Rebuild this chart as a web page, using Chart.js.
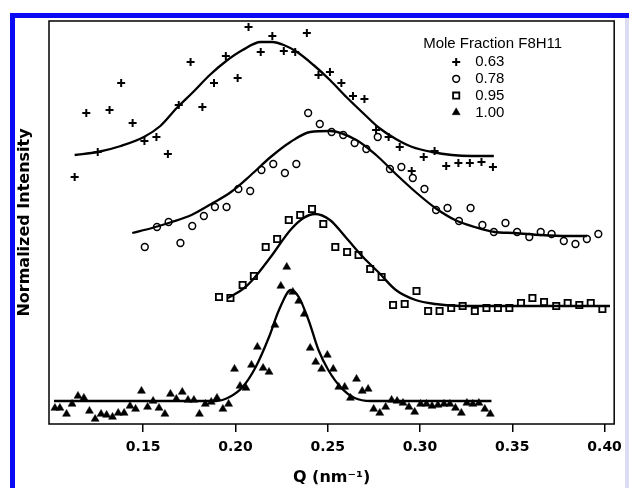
<!DOCTYPE html>
<html>
<head>
<meta charset="utf-8">
<script src="https://cdn.jsdelivr.net/npm/chart.js@4.4.0/dist/chart.umd.min.js"></script>
<style>
  html, body { margin: 0; padding: 0; background: #fff; }
  #wrap { position: relative; width: 629px; height: 488px; }
  #frame { position: absolute; left: 10px; top: 13px; right: 0; bottom: 0; border-top: 5px solid #0a0af5; border-left: 5px solid #0a0af5; pointer-events: none; }
  #edge { position: absolute; right: 0; top: 18px; bottom: 0; width: 4px; background: #dcdcf4; }
</style>
</head>
<body>
<div id="wrap">
  <canvas id="chart" width="629" height="488"></canvas>
  <div id="frame"></div>
  <div id="edge"></div>
</div>
<script>
// scattering data, Q in nm^-1, intensity offset per mole fraction
const seriesLabels = ['0.63', '0.78', '0.95', '1.00'];
const legendTitle = 'Mole Fraction F8H11';
const tickValues = [0.15, 0.20, 0.25, 0.30, 0.35, 0.40];

const q063 = [0.1129,0.1192,0.1254,0.1318,0.1381,0.1443,0.1507,0.1572,0.1634,0.1693,0.1757,0.1821,0.1884,0.1948,0.2012,0.2071,0.2137,0.2200,0.2262,0.2324,0.2387,0.2450,0.2512,0.2574,0.2637,0.2699,0.2762,0.2830,0.2890,0.2955,0.3020,0.3079,0.3142,0.3208,0.3270,0.3333,0.3395];
const i063 = [2.47,3.11,2.72,3.14,3.41,3.01,2.83,2.87,2.70,3.19,3.62,3.17,3.41,3.68,3.46,3.97,3.72,3.88,3.73,3.72,3.91,3.49,3.52,3.41,3.28,3.25,2.94,2.87,2.77,2.53,2.67,2.73,2.58,2.61,2.61,2.62,2.57];

const q078 = [0.1509,0.1575,0.1638,0.1702,0.1766,0.1829,0.1889,0.1952,0.2016,0.2080,0.2141,0.2205,0.2268,0.2330,0.2394,0.2457,0.2521,0.2584,0.2646,0.2709,0.2771,0.2837,0.2899,0.2961,0.3024,0.3087,0.3149,0.3211,0.3274,0.3338,0.3400,0.3463,0.3526,0.3592,0.3654,0.3713,0.3779,0.3842,0.3904,0.3966];
const i078 = [1.77,1.97,2.02,1.81,1.98,2.08,2.17,2.17,2.35,2.33,2.54,2.60,2.51,2.60,3.11,3.00,2.92,2.89,2.81,2.75,2.87,2.55,2.57,2.46,2.35,2.14,2.16,2.03,2.16,1.99,1.92,2.01,1.92,1.87,1.92,1.90,1.83,1.80,1.85,1.90];

const q095 = [0.1911,0.1973,0.2039,0.2100,0.2164,0.2226,0.2289,0.2351,0.2415,0.2476,0.2541,0.2605,0.2667,0.2730,0.2792,0.2854,0.2917,0.2981,0.3044,0.3106,0.3169,0.3231,0.3297,0.3360,0.3422,0.3484,0.3547,0.3609,0.3672,0.3738,0.3800,0.3863,0.3925,0.3988];
const i095 = [1.27,1.26,1.39,1.48,1.77,1.85,2.04,2.09,2.15,2.00,1.77,1.72,1.69,1.55,1.47,1.19,1.20,1.33,1.13,1.13,1.16,1.18,1.13,1.16,1.16,1.16,1.21,1.26,1.22,1.18,1.21,1.19,1.21,1.15];

const q100 = [0.1022,0.1049,0.1085,0.1115,0.1147,0.1179,0.1209,0.1240,0.1272,0.1302,0.1334,0.1365,0.1397,0.1429,0.1459,0.1491,0.1524,0.1554,0.1586,0.1618,0.1648,0.1680,0.1712,0.1743,0.1775,0.1805,0.1837,0.1869,0.1900,0.1932,0.1963,0.1995,0.2025,0.2057,0.2087,0.2119,0.2150,0.2182,0.2214,0.2246,0.2278,0.2311,0.2343,0.2373,0.2405,0.2435,0.2467,0.2498,0.2530,0.2560,0.2592,0.2623,0.2656,0.2687,0.2719,0.2749,0.2782,0.2814,0.2846,0.2876,0.2908,0.2940,0.2971,0.3003,0.3035,0.3065,0.3097,0.3130,0.3162,0.3192,0.3224,0.3254,0.3286,0.3319,0.3351,0.3381];
const i100 = [0.16,0.16,0.10,0.20,0.28,0.26,0.13,0.05,0.10,0.09,0.07,0.11,0.11,0.18,0.15,0.33,0.17,0.23,0.16,0.10,0.30,0.25,0.32,0.24,0.24,0.10,0.20,0.22,0.26,0.15,0.20,0.55,0.38,0.36,0.59,0.77,0.56,0.52,0.99,1.38,1.57,1.32,1.23,1.10,0.76,0.62,0.55,0.69,0.55,0.37,0.37,0.26,0.45,0.33,0.35,0.15,0.11,0.17,0.24,0.23,0.21,0.17,0.12,0.20,0.20,0.18,0.19,0.20,0.20,0.16,0.11,0.21,0.20,0.21,0.15,0.10];

// fitted curves
const qFit063 = [0.1129,0.1254,0.1379,0.1504,0.1593,0.1682,0.1771,0.1861,0.1950,0.2039,0.2137,0.2200,0.2262,0.2334,0.2423,0.2512,0.2601,0.2691,0.2779,0.2869,0.2958,0.3065,0.3172,0.3279,0.3400];
const iFit063 = [2.69,2.72,2.78,2.87,2.98,3.16,3.32,3.49,3.63,3.74,3.82,3.82,3.79,3.72,3.59,3.44,3.27,3.11,2.96,2.85,2.77,2.72,2.69,2.68,2.68];
const qFit078 = [0.1441,0.1548,0.1655,0.1762,0.1869,0.1976,0.2084,0.2191,0.2298,0.2405,0.2512,0.2655,0.2762,0.2869,0.2976,0.3083,0.3190,0.3297,0.3404,0.3511,0.3654,0.3797,0.3904];
const iFit078 = [1.91,1.96,2.02,2.09,2.20,2.32,2.49,2.67,2.82,2.92,2.93,2.84,2.69,2.50,2.32,2.16,2.04,1.97,1.92,1.91,1.89,1.88,1.88];
const qFit095 = [0.1959,0.2048,0.2102,0.2191,0.2298,0.2369,0.2431,0.2512,0.2601,0.2691,0.2779,0.2869,0.2976,0.3083,0.3226,0.3404,0.3761,0.4029];
const iFit095 = [1.26,1.36,1.46,1.67,1.94,2.06,2.10,2.04,1.86,1.67,1.51,1.34,1.24,1.20,1.18,1.18,1.18,1.18];
const qFit100 = [0.1017,0.1477,0.1895,0.1968,0.2039,0.2110,0.2182,0.2236,0.2301,0.2343,0.2396,0.2450,0.2503,0.2574,0.2646,0.2735,0.2976,0.3387];
const iFit100 = [0.23,0.23,0.23,0.27,0.37,0.57,0.87,1.14,1.34,1.27,1.04,0.74,0.54,0.36,0.26,0.23,0.23,0.23];

const toXY = (qs, is) => qs.map((q, k) => ({ x: q, y: is[k] }));

const markers = [
  { style: 'cross', radius: 4, width: 2, fill: 'rgba(0,0,0,0)' },
  { style: 'circle', radius: 3.4, width: 1.5, fill: 'rgba(0,0,0,0)' },
  { style: 'rect', radius: 4.4, width: 1.8, fill: 'rgba(0,0,0,0)' },
  { style: 'triangle', radius: 4.6, width: 0.5, fill: '#000' }
];
const pointSets = [toXY(q063, i063), toXY(q078, i078), toXY(q095, i095), toXY(q100, i100)];
const fitSets = [toXY(qFit063, iFit063), toXY(qFit078, iFit078), toXY(qFit095, iFit095), toXY(qFit100, iFit100)];

let datasets = [];
pointSets.forEach((pts, k) => {
  datasets.push({
    label: seriesLabels[k],
    data: pts,
    showLine: false,
    pointStyle: markers[k].style,
    pointRadius: markers[k].radius,
    pointBorderWidth: markers[k].width,
    pointBorderColor: '#000',
    pointBackgroundColor: markers[k].fill,
    order: 1
  });
});
fitSets.forEach((pts, k) => {
  datasets.push({
    label: 'fit ' + seriesLabels[k],
    data: pts,
    showLine: true,
    pointRadius: 0,
    borderColor: '#000',
    borderWidth: 2.3,
    cubicInterpolationMode: 'monotone',
    order: 2
  });
});

// plot frame around the chart area
const frameBox = {
  id: 'frameBox',
  afterDatasetsDraw(chart) {
    const { ctx, chartArea: a } = chart;
    ctx.save();
    ctx.strokeStyle = '#000';
    ctx.lineWidth = 1.5;
    ctx.strokeRect(a.left, a.top, a.right - a.left, a.bottom - a.top);
    ctx.restore();
  }
};

// legend inside the plot, top right
const legendBox = {
  id: 'legendBox',
  afterDraw(chart) {
    const { ctx, chartArea: a } = chart;
    const x0 = a.right - 191;
    const y0 = a.top + 23;
    ctx.save();
    ctx.font = '15px "Liberation Sans", Arial, sans-serif';
    ctx.textBaseline = 'middle';
    ctx.fillStyle = '#000';
    ctx.fillText(legendTitle, x0, y0);
    seriesLabels.forEach((lab, k) => {
      const y = y0 + 18 + k * 16.8;
      ctx.strokeStyle = '#000';
      ctx.lineWidth = markers[k].width;
      ctx.fillStyle = markers[k].fill;
      Chart.helpers.drawPoint(ctx, { pointStyle: markers[k].style, radius: markers[k].radius, borderWidth: markers[k].width, rotation: 0 }, x0 + 33, y);
      ctx.fillStyle = '#000';
      ctx.fillText(lab, x0 + 52, y);
    });
    ctx.restore();
  }
};

const config = {
  type: 'scatter',
  data: { datasets: datasets },
  options: {
    responsive: false,
    animation: false,
    layout: { padding: { top: 21, right: 8, left: 0, bottom: 0 } },
    plugins: { legend: { display: false }, tooltip: { enabled: false } },
    scales: {
      x: {
        type: 'linear',
        min: 0.099,
        max: 0.4052,
        afterBuildTicks: (scale) => { scale.ticks = tickValues.map(v => ({ value: v })); },
        afterFit: (scale) => { scale.height = 64; },
        ticks: {
          color: '#000',
          padding: 7,
          font: { family: '"DejaVu Sans", sans-serif', size: 14, weight: 'bold' },
          callback: (v) => Number(v).toFixed(2)
        },
        grid: { display: true, drawOnChartArea: false, drawTicks: true, tickLength: 8, color: '#000', lineWidth: 1.5 },
        border: { display: false },
        title: {
          display: true,
          text: 'Q (nm\u207B\u00B9)',
          color: '#000',
          font: { family: '"DejaVu Sans", sans-serif', size: 16, weight: 'bold' },
          padding: { top: 0, bottom: 1 }
        }
      },
      y: {
        min: 0,
        max: 4.03,
        afterFit: (scale) => { scale.width = 49; },
        ticks: { display: false },
        grid: { display: false },
        border: { display: false },
        title: {
          display: true,
          text: 'Normalized Intensity',
          color: '#000',
          font: { family: '"DejaVu Sans", sans-serif', size: 16, weight: 'bold' },
          padding: { top: 15, bottom: 0 }
        }
      }
    }
  },
  plugins: [frameBox, legendBox]
};

const mychart = new Chart(document.getElementById('chart'), config);
</script>
</body>
</html>
